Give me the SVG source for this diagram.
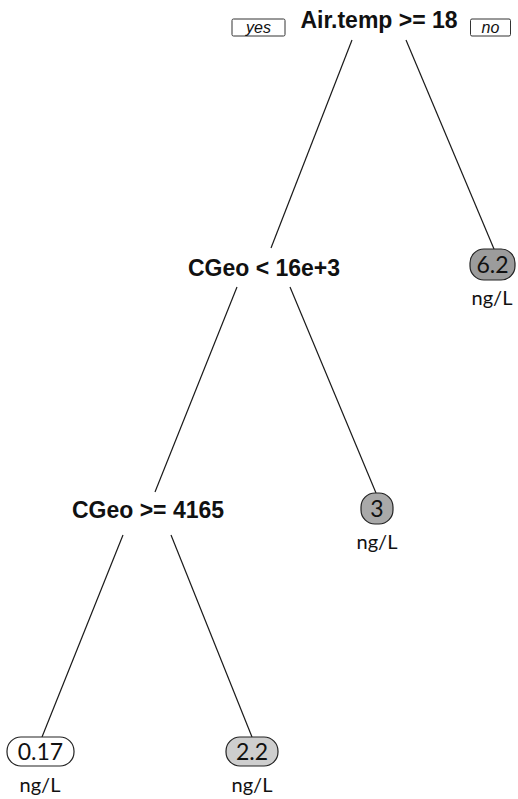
<svg xmlns="http://www.w3.org/2000/svg" width="518" height="799" viewBox="0 0 518 799">
<style>
.split{font-family:"Liberation Sans",Arial,sans-serif;font-weight:bold;font-size:23px;text-anchor:middle;fill:#111}
.lbl{font-family:"Liberation Sans",Arial,sans-serif;font-style:italic;font-size:16px;text-anchor:middle;fill:#111}
.lab{fill:#fff;stroke:#333;stroke-width:1}
.leaf{stroke:#222;stroke-width:1.2}
.val{font-family:Lato,"Open Sans",sans-serif;font-size:23px;text-anchor:middle;fill:#111}
.unit{font-family:Lato,"Open Sans",sans-serif;font-size:20px;text-anchor:middle;fill:#111}
.edge{stroke:#1a1a1a;stroke-width:1.2;fill:none}
</style>
<rect width="518" height="799" fill="#fff"/>
<g id="connectors">
<line class="edge" x1="352" y1="40" x2="271" y2="248"/>
<line class="edge" x1="406" y1="40" x2="494" y2="249"/>
<line class="edge" x1="237" y1="287" x2="155" y2="492"/>
<line class="edge" x1="290" y1="287" x2="376" y2="493"/>
<line class="edge" x1="123" y1="535" x2="42" y2="737"/>
<line class="edge" x1="171" y1="535" x2="252" y2="737"/>
</g>
<g id="root">
<text class="split" x="379" y="28">Air.temp &gt;= 18</text>
</g>
<g id="yes">
<rect class="lab" x="232" y="19" width="53" height="17" rx="1.5"/>
<text class="lbl" x="258.5" y="32.5">yes</text>
</g>
<g id="no">
<rect class="lab" x="470.5" y="19" width="40" height="17" rx="1.5"/>
<text class="lbl" x="490.5" y="32.5">no</text>
</g>
<g id="split2">
<text class="split" x="264" y="276">CGeo &lt; 16e+3</text>
</g>
<g id="split3">
<text class="split" x="148" y="518">CGeo &gt;= 4165</text>
</g>
<g id="leaf62">
<rect class="leaf" x="470" y="249" width="45" height="31" rx="14" fill="#9c9c9c"/>
<text class="val" x="492.5" y="273">6.2</text>
<text class="unit" x="492" y="305">ng/L</text>
</g>
<g id="leaf3">
<rect class="leaf" x="361" y="493" width="32" height="31" rx="14" fill="#a9a9a9"/>
<text class="val" x="377" y="517">3</text>
<text class="unit" x="377" y="549">ng/L</text>
</g>
<g id="leaf017">
<rect class="leaf" x="7" y="737" width="67" height="29" rx="14" fill="#ffffff"/>
<text class="val" x="40.5" y="760">0.17</text>
<text class="unit" x="40" y="792">ng/L</text>
</g>
<g id="leaf22">
<rect class="leaf" x="226" y="737" width="52" height="29" rx="14" fill="#cecece"/>
<text class="val" x="252" y="760">2.2</text>
<text class="unit" x="252" y="792">ng/L</text>
</g>
</svg>
